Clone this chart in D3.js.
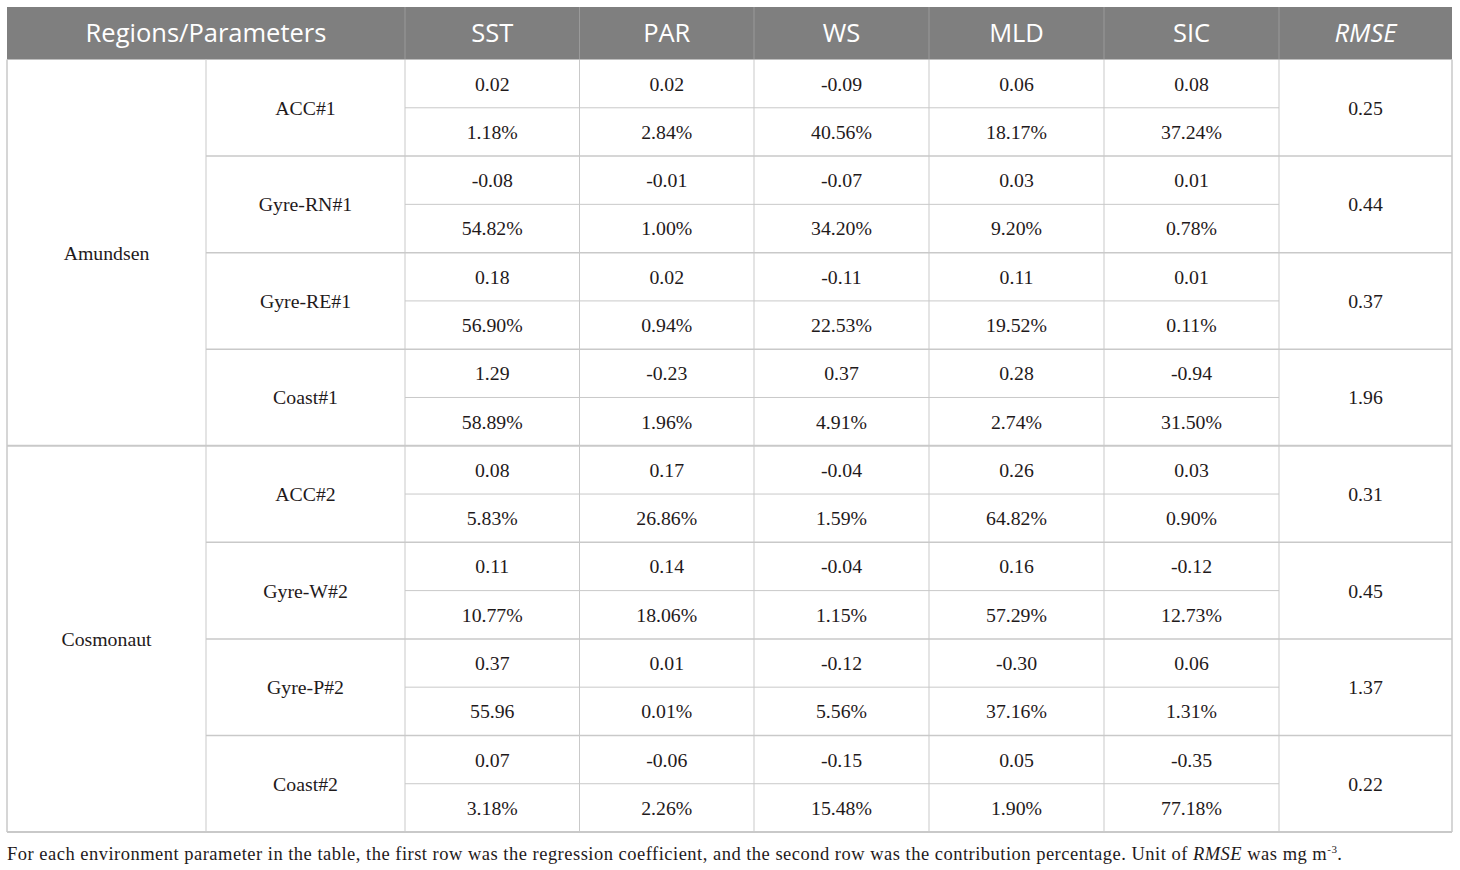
<!DOCTYPE html>
<html>
<head>
<meta charset="utf-8">
<script src="https://cdn.jsdelivr.net/npm/d3@7"></script>
<style>
  body { margin: 0; background: #fff; }
</style>
</head>
<body>
<div id="chart-area"></div>
<script>

let width = 1460,
    height = 870;

// table content
let headers = ["Regions/Parameters", "SST", "PAR", "WS", "MLD", "SIC", "RMSE"];
let regions = ["Amundsen", "Cosmonaut"];
let sites = ["ACC#1", "Gyre-RN#1", "Gyre-RE#1", "Coast#1", "ACC#2", "Gyre-W#2", "Gyre-P#2", "Coast#2"];
let siteRegion = [0, 0, 0, 0, 1, 1, 1, 1];

// first row: regression coefficient
let coefficients = [
  [0.02, 0.02, -0.09, 0.06, 0.08],
  [-0.08, -0.01, -0.07, 0.03, 0.01],
  [0.18, 0.02, -0.11, 0.11, 0.01],
  [1.29, -0.23, 0.37, 0.28, -0.94],
  [0.08, 0.17, -0.04, 0.26, 0.03],
  [0.11, 0.14, -0.04, 0.16, -0.12],
  [0.37, 0.01, -0.12, -0.30, 0.06],
  [0.07, -0.06, -0.15, 0.05, -0.35]
];

// second row: contribution percentage
let contributions = [
  ["1.18%", "2.84%", "40.56%", "18.17%", "37.24%"],
  ["54.82%", "1.00%", "34.20%", "9.20%", "0.78%"],
  ["56.90%", "0.94%", "22.53%", "19.52%", "0.11%"],
  ["58.89%", "1.96%", "4.91%", "2.74%", "31.50%"],
  ["5.83%", "26.86%", "1.59%", "64.82%", "0.90%"],
  ["10.77%", "18.06%", "1.15%", "57.29%", "12.73%"],
  ["55.96", "0.01%", "5.56%", "37.16%", "1.31%"],
  ["3.18%", "2.26%", "15.48%", "1.90%", "77.18%"]
];

let rmse = [0.25, 0.44, 0.37, 1.96, 0.31, 0.45, 1.37, 0.22];

// layout
let colEdges = [7, 206, 405, 579.5, 754, 929, 1104, 1279, 1452];
let headTop = 7, headBottom = 59.5, tableBottom = 832;
let lineColor = "#c9c9c9";
let textColor = "#1f1a1b";
let serif = "'Liberation Serif', 'DejaVu Serif', serif";
let sans = "'Open Sans', 'Noto Sans', sans-serif";

let svg = d3.select("#chart-area").append("svg")
    .attr("width", width)
    .attr("height", height);

// y scale: sub-row index (two per site) -> pixel
let y = d3.scaleLinear()
    .domain([0, sites.length * 2])
    .range([headBottom, tableBottom]);

let colMid = i => (colEdges[i] + colEdges[i + 1]) / 2;
let fmt = v => v.toFixed(2);

// header band
svg.append("rect")
  .attr("x", colEdges[0]).attr("y", headTop)
  .attr("width", colEdges[8] - colEdges[0])
  .attr("height", headBottom - headTop)
  .attr("fill", "#7f7f7f");

// header dividers
svg.selectAll(".hdiv")
  .data([2, 3, 4, 5, 6, 7])
  .enter().append("line")
  .attr("x1", d => colEdges[d]).attr("x2", d => colEdges[d])
  .attr("y1", headTop).attr("y2", headBottom)
  .attr("stroke", "#9a9a9a");

let headerCols = [(colEdges[0] + colEdges[2]) / 2, colMid(2), colMid(3), colMid(4), colMid(5), colMid(6), colMid(7)];

svg.selectAll(".htext")
  .data(headers)
  .enter().append("text")
  .attr("x", (d, i) => headerCols[i])
  .attr("y", (headTop + headBottom) / 2)
  .attr("dy", "0.36em")
  .attr("text-anchor", "middle")
  .attr("font-family", sans)
  .attr("font-size", 25.5)
  .attr("font-style", d => d === "RMSE" ? "italic" : "normal")
  .attr("fill", "#fff")
  .text(d => d);

// body grid
let body = svg.append("g");

// sub-row lines inside parameter columns
let subLines = d3.range(sites.length).map(i => i * 2 + 1);
body.selectAll(".sub")
  .data(subLines)
  .enter().append("line")
  .attr("x1", colEdges[2]).attr("x2", colEdges[7])
  .attr("y1", d => y(d)).attr("y2", d => y(d))
  .attr("stroke", lineColor).attr("stroke-width", 1);

// site group lines
let siteLines = d3.range(1, sites.length).map(i => i * 2);
body.selectAll(".siteline")
  .data(siteLines)
  .enter().append("line")
  .attr("x1", d => d === 8 ? colEdges[0] : colEdges[1])
  .attr("x2", colEdges[8])
  .attr("y1", d => y(d)).attr("y2", d => y(d))
  .attr("stroke", lineColor).attr("stroke-width", d => d === 8 ? 2 : 1.5);

// vertical lines
body.selectAll(".vline")
  .data(colEdges)
  .enter().append("line")
  .attr("x1", d => d).attr("x2", d => d)
  .attr("y1", headBottom).attr("y2", tableBottom)
  .attr("stroke", lineColor)
  .attr("stroke-width", (d, i) => (i === 0 || i === 8) ? 1.5 : 1);

// bottom border
body.append("line")
  .attr("x1", colEdges[0]).attr("x2", colEdges[8])
  .attr("y1", tableBottom).attr("y2", tableBottom)
  .attr("stroke", lineColor).attr("stroke-width", 2);

function cellText(sel) {
  return sel.attr("text-anchor", "middle")
    .attr("dy", "0.35em")
    .attr("font-family", serif)
    .attr("font-size", 19.8)
    .attr("fill", textColor);
}

// region labels
svg.selectAll(".region")
  .data(regions)
  .enter().append("text")
  .attr("x", colMid(0))
  .attr("y", (d, r) => y(r * 8 + 4))
  .call(cellText)
  .text(d => d);

// site labels
svg.selectAll(".site")
  .data(sites)
  .enter().append("text")
  .attr("x", colMid(1))
  .attr("y", (d, i) => y(i * 2 + 1))
  .call(cellText)
  .text(d => d);

// coefficients and contributions
sites.forEach((s, i) => {
  svg.selectAll(".coef" + i)
    .data(coefficients[i])
    .enter().append("text")
    .attr("x", (d, j) => colMid(j + 2))
    .attr("y", y(i * 2 + 0.5))
    .call(cellText)
    .text(d => fmt(d));

  svg.selectAll(".contr" + i)
    .data(contributions[i])
    .enter().append("text")
    .attr("x", (d, j) => colMid(j + 2))
    .attr("y", y(i * 2 + 1.5))
    .call(cellText)
    .text(d => d);
});

// rmse
svg.selectAll(".rmse")
  .data(rmse)
  .enter().append("text")
  .attr("x", colMid(7))
  .attr("y", (d, i) => y(i * 2 + 1))
  .call(cellText)
  .text(d => fmt(d));

// footnote
let note = svg.append("text")
  .attr("x", 7)
  .attr("y", 860)
  .attr("font-family", serif)
  .attr("font-size", 18.5)
  .attr("fill", textColor)
  .attr("textLength", 1335)
  .attr("lengthAdjust", "spacing");

note.append("tspan").text("For each environment parameter in the table, the first row was the regression coefficient, and the second row was the contribution percentage. Unit of ");
note.append("tspan").attr("font-style", "italic").text("RMSE");
note.append("tspan").text(" was mg m");
note.append("tspan").attr("font-size", 11).attr("dy", -7).text("-3");
note.append("tspan").attr("dy", 7).text(".");

</script>
</body>
</html>
